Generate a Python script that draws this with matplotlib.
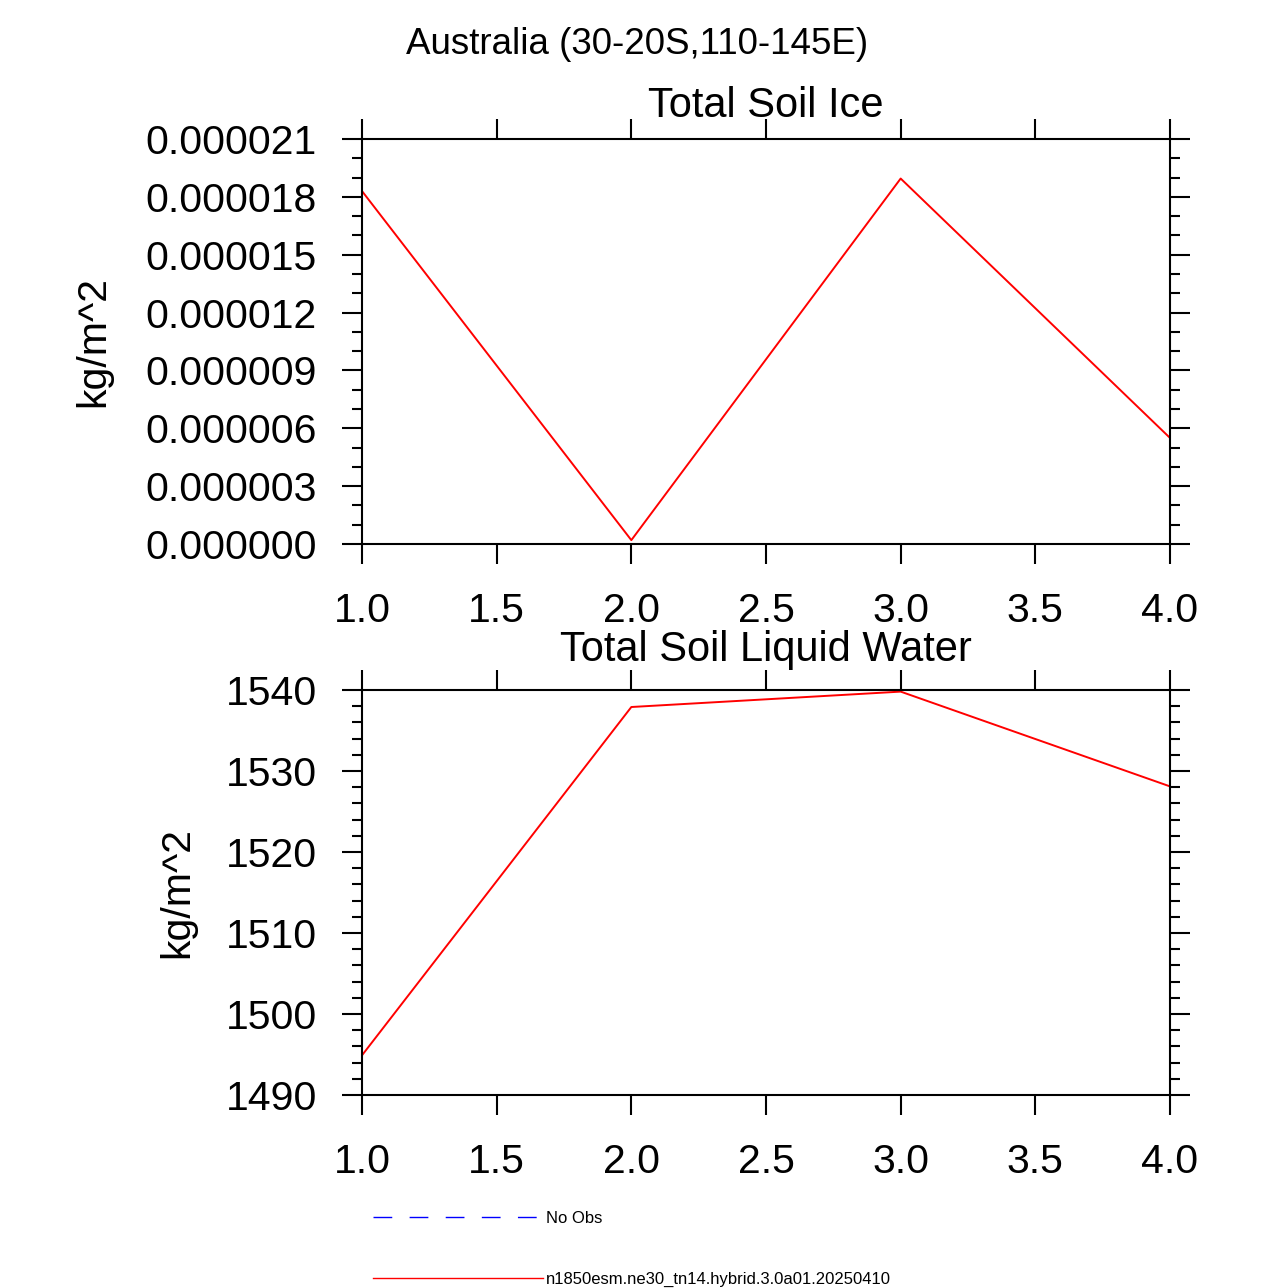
import matplotlib
matplotlib.use("Agg")
import matplotlib.pyplot as plt
from matplotlib.lines import Line2D
from matplotlib.ticker import MultipleLocator, FormatStrFormatter

plt.rcParams["font.family"] = ["Liberation Sans", "DejaVu Sans"]

# Data
x_vals = [1.0, 2.0, 3.0, 4.0]
soil_ice = [18.3e-6, 0.2e-6, 18.95e-6, 5.5e-6]
soil_liq = [1494.9, 1537.9, 1539.8, 1528.1]

x_ticks = [1.0, 1.5, 2.0, 2.5, 3.0, 3.5, 4.0]
case_name = "n1850esm.ne30_tn14.hybrid.3.0a01.20250410"
obs_name = "No Obs"
region = "Australia (30-20S,110-145E)"

W, H = 1275, 1288
fig = plt.figure(figsize=(W / 100, H / 100), dpi=100)


def style_axes(ax, ymajor, yminor, yfmt):
    ax.set_xlim(1.0, 4.0)
    ax.set_xticks(x_ticks)
    ax.xaxis.set_major_formatter(FormatStrFormatter("%.1f"))
    ax.yaxis.set_major_locator(MultipleLocator(ymajor))
    ax.yaxis.set_minor_locator(MultipleLocator(yminor))
    ax.yaxis.set_major_formatter(FormatStrFormatter(yfmt))
    ax.tick_params(which="both", direction="out", top=True, right=True,
                   width=1.5, colors="black")
    ax.tick_params(which="major", length=14.5, labelsize=29.5)
    ax.tick_params(axis="y", which="major", pad=18)
    ax.tick_params(axis="x", which="major", pad=20)
    ax.tick_params(which="minor", length=7)
    for sp in ax.spines.values():
        sp.set_linewidth(1.5)


# Top panel: soil ice
ax1 = fig.add_axes([362 / W, 1 - 544 / H, 808 / W, 405 / H])
ax1.plot(x_vals, soil_ice, color="red", lw=1.4)
ax1.set_ylim(0, 21e-6)
style_axes(ax1, 3e-6, 1e-6, "%.6f")
ax1.set_title("Total Soil Ice", fontsize=30, pad=16)
ax1.set_ylabel("kg/m^2", fontsize=29.5, labelpad=24)

# Bottom panel: soil liquid water
ax2 = fig.add_axes([362 / W, 1 - 1095 / H, 808 / W, 405 / H])
ax2.plot(x_vals, soil_liq, color="red", lw=1.4)
ax2.set_ylim(1490, 1540)
style_axes(ax2, 10, 2, "%d")
ax2.set_title("Total Soil Liquid Water", fontsize=30, pad=21)
ax2.set_ylabel("kg/m^2", fontsize=29.5, labelpad=21)

fig.text(0.5, 1 - 45 / H, region, ha="center", va="center", fontsize=26.5)

# Legend below the plots
handles = [
    Line2D([], [], color="blue", lw=1.0, dashes=(13.5, 12.5)),
    Line2D([], [], color="red", lw=1.0),
]
fig.legend(handles, [obs_name, case_name], loc="upper left",
           bbox_to_anchor=(373 / W, 1 - 1211 / H), frameon=False,
           fontsize=12, handlelength=10.2, handletextpad=0.15,
           labelspacing=2.75, borderpad=0, borderaxespad=0)

fig.savefig("out.png", dpi=100)
